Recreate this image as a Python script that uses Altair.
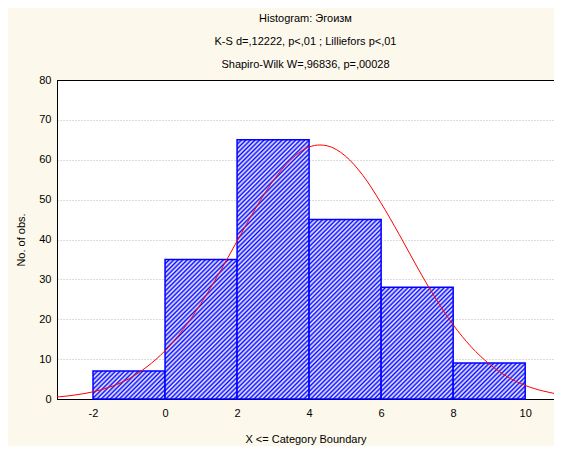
import math
import altair as alt
import pandas as pd

# ---- data ----
bin_left = [-2, 0, 2, 4, 6, 8]
bin_right = [0, 2, 4, 6, 8, 10]
counts = [7, 35, 65, 45, 28, 9]

curve_x = [-3, -2.5, -2, -1.5, -1, -0.5, 0, 0.5, 1, 1.5, 2, 2.5, 3, 3.5, 4, 4.3,
           4.5, 5, 5.5, 6, 6.5, 7, 7.5, 8, 8.5, 9, 9.5, 10, 10.5, 11]
curve_y = [0.5, 1.0, 1.8, 3.1, 5.1, 8.1, 12.1, 17.4, 24.0, 31.5, 39.6, 47.6, 54.7, 60.1, 63.2, 63.7,
           63.5, 61.0, 56.0, 49.1, 41.3, 33.1, 25.4, 18.6, 13.1, 8.8, 5.6, 3.4, 2.0, 1.1]

title_lines = ["Histogram: Эгоизм",
               "K-S d=,12222, p<,01 ; Lilliefors p<,01",
               "Shapiro-Wilk W=,96836, p=,00028"]
x_title = "X <= Category Boundary"
y_title = "No. of obs."
x_ticks = [-2, 0, 2, 4, 6, 8, 10]
y_ticks = [0, 10, 20, 30, 40, 50, 60, 70, 80]

# ---- layout / style ----
PLOT_W, PLOT_H = 497, 319
X_DOMAIN = [-3, 10.8]
Y_DOMAIN = [0, 80]
FONT = "Liberation Sans"
BLUE = "#0000ff"

bars = pd.DataFrame({"idx": list(range(len(counts))), "left": bin_left,
                     "right": bin_right, "count": counts})
curve = pd.DataFrame({"x": curve_x, "y": curve_y})


def hatch(w, h, period=3.2):
    """diagonal '/' stripes as a linear gradient in bounding-box units"""
    D = (w + h) / math.sqrt(2)
    c = (w + h) * w * h / (w * w + h * h)
    x2, y2 = c / h, c / w
    pt = period / D
    stops = []
    t = 0.0
    while t < 1:
        stops.append({"offset": round(t, 5), "color": "#0c0cff"})
        stops.append({"offset": round(min(t + pt * 0.5, 1), 5), "color": "#f4f4ff"})
        t += pt
    stops.append({"offset": 1, "color": "#0c0cff"})
    return {"gradient": "linear", "x1": 0, "y1": 0, "x2": x2, "y2": y2, "stops": stops}


edge_test = f"datum.value == {Y_DOMAIN[0]} || datum.value == {Y_DOMAIN[1]}"
xscale = alt.Scale(domain=X_DOMAIN, nice=False, zero=False)
yscale = alt.Scale(domain=Y_DOMAIN, nice=False)
xaxis = alt.Axis(values=x_ticks, title=x_title, grid=False, labelPadding=8, titlePadding=15,
                 labelExpr="'' + datum.value")
yaxis = alt.Axis(values=y_ticks, title=y_title, grid=True, labelPadding=6, titlePadding=12,
                 gridColor={"condition": {"test": edge_test, "value": "#000000"}, "value": "#b8b8b8"},
                 gridDash={"condition": {"test": edge_test, "value": []}, "value": [1, 2]})

layers = []
for i in range(len(counts)):
    w = (bin_right[i] - bin_left[i]) * PLOT_W / (X_DOMAIN[1] - X_DOMAIN[0])
    h = counts[i] * PLOT_H / (Y_DOMAIN[1] - Y_DOMAIN[0])
    layers.append(
        alt.Chart(bars).transform_filter(alt.datum.idx == i)
        .mark_rect(fill=hatch(w, h), stroke=BLUE, strokeWidth=1.5)
        .encode(x=alt.X("left:Q", scale=xscale, axis=xaxis),
                x2="right:Q",
                y=alt.Y("count:Q", scale=yscale, axis=yaxis),
                y2=alt.datum(0))
    )

line = alt.Chart(curve).mark_line(color="#ff0000", strokeWidth=1, interpolate="monotone",
                                  clip=True).encode(
    x=alt.X("x:Q", scale=xscale, axis=xaxis),
    y=alt.Y("y:Q", scale=yscale, axis=yaxis),
)

chart = alt.layer(*layers, line).properties(
    width=PLOT_W, height=PLOT_H,
    title=alt.TitleParams(text=title_lines, font=FONT, fontSize=11, fontWeight="normal",
                          color="#000000", anchor="middle", lineHeight=23, offset=4),
    autosize=alt.AutoSizeParams(type="none"),
    padding={"left": 49, "top": 72, "right": 0, "bottom": 47},
    background="#fdf8ec",
).configure_view(
    stroke="#000000", strokeWidth=1, fill="#ffffff"
).configure_axis(
    labelFont=FONT, labelFontSize=11, labelColor="#000000",
    titleFont=FONT, titleFontSize=11, titleFontWeight="normal", titleColor="#000000",
    domainColor="#000000", domainWidth=1, ticks=False, gridWidth=1,
)

chart.save("out.html", embed_options={"renderer": "svg", "actions": False})
